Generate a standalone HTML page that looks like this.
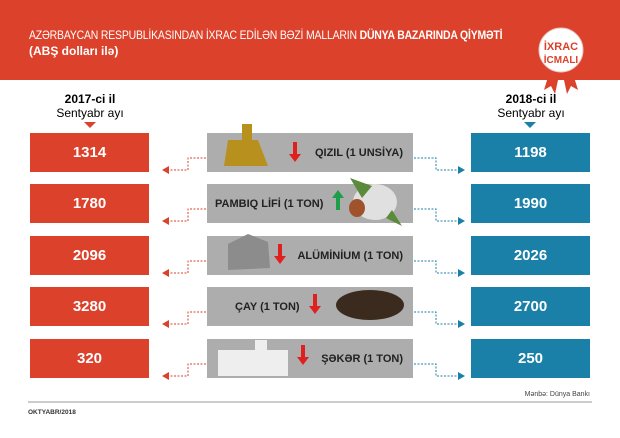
<!DOCTYPE html>
<html><head><meta charset="utf-8"><style>
*{margin:0;padding:0;box-sizing:border-box}
body{width:620px;height:438px;background:#fff;position:relative;overflow:hidden;font-family:"Liberation Sans",sans-serif}
.hdr{position:absolute;left:0;top:0;width:620px;height:80px;background:#db412b}
.t1{position:absolute;left:29px;top:28px;color:#fff;font-size:12px;letter-spacing:-0.2px;white-space:nowrap;transform:scaleX(0.87);transform-origin:left}
.t2{position:absolute;left:29px;top:44px;color:#fff;font-size:12px;font-weight:bold}
.box{position:absolute;height:39px;color:#fff;font-weight:bold;font-size:15px;display:flex;align-items:center;justify-content:center}
.r{left:30px;width:119px;background:#db412b}
.b{left:471px;width:119px;background:#1a80a8}
.g{position:absolute;left:207px;width:206px;height:39px;background:#adadad;font-size:11px;font-weight:bold;color:#222;display:flex;align-items:center;justify-content:flex-end;padding-right:10px;white-space:nowrap}
.lbl{position:absolute;text-align:center;width:100px;font-size:12px}
.lbl b{font-size:12px;display:block}
.arrow{position:absolute;width:0;height:0}
svg{position:absolute;left:0;top:0}
</style></head><body>
<div class="hdr"></div>
<div class="t1">AZƏRBAYCAN RESPUBLİKASINDAN İXRAC EDİLƏN BƏZİ MALLARIN <b>DÜNYA BAZARINDA QİYMƏTİ</b></div>
<div class="t2">(ABŞ dolları ilə)</div>
<div class="lbl" style="left:40px;top:92px"><b>2017-ci il</b>Sentyabr ayı</div>
<div class="lbl" style="left:481px;top:92px"><b>2018-ci il</b>Sentyabr ayı</div>
<div class="arrow" style="left:84px;top:122px;border-left:6px solid transparent;border-right:6px solid transparent;border-top:6px solid #db412b"></div>
<div class="arrow" style="left:524px;top:122px;border-left:6px solid transparent;border-right:6px solid transparent;border-top:6px solid #1a80a8"></div>

<div class="box r" style="top:133px">1314</div>
<div class="box r" style="top:184px">1780</div>
<div class="box r" style="top:236px">2096</div>
<div class="box r" style="top:287px">3280</div>
<div class="box r" style="top:339px">320</div>
<div class="box b" style="top:133px">1198</div>
<div class="box b" style="top:184px">1990</div>
<div class="box b" style="top:236px">2026</div>
<div class="box b" style="top:287px">2700</div>
<div class="box b" style="top:339px">250</div>

<div class="g" style="top:133px">QIZIL (1 UNSİYA)</div>
<div class="g" style="top:184px;justify-content:flex-start;padding-left:8px">PAMBIQ LİFİ (1 TON)</div>
<div class="g" style="top:236px">ALÜMİNİUM (1 TON)</div>
<div class="g" style="top:287px;justify-content:flex-start;padding-left:28px">ÇAY (1 TON)</div>
<div class="g" style="top:339px">ŞƏKƏR (1 TON)</div>

<svg width="620" height="438">
<g fill="#b8901e"><path d="M228 140h30l10 26h-44z"/><rect x="242" y="124" width="10" height="20"/></g>
<g fill="#e0e0e0"><ellipse cx="375" cy="202" rx="22" ry="18"/></g>
<path d="M350 178l22 8-10 12z M392 210l10 16-16-8z" fill="#5a8a3a"/>
<ellipse cx="357" cy="208" rx="8" ry="9" fill="#a0522d"/>
<path d="M228 244l20-10 20 8 2 26-42 2z" fill="#8c8c8c"/>
<ellipse cx="370" cy="305" rx="34" ry="15" fill="#3b2a1e"/>
<g fill="#eeeeee"><rect x="218" y="350" width="70" height="26"/><rect x="255" y="340" width="12" height="12"/></g>
<g fill="#e0201f">
<path d="M293 142h4v12h4l-6 8-6-8h4z"/>
<path d="M278 244h4v12h4l-6 8-6-8h4z"/>
<path d="M313 294h4v12h4l-6 8-6-8h4z"/>
<path d="M301 345h4v12h4l-6 8-6-8h4z"/>
</g>
<path d="M336 210h4v-12h4l-6-8-6 8h4z" fill="#1e9e48"/>
<g fill="none" stroke-dasharray="2,1.5" stroke-width="1">
<g stroke="#db412b">
<path d="M206 158h-18v12h-20"/><path d="M206 209h-18v12h-20"/><path d="M206 261h-18v12h-20"/><path d="M206 312h-18v12h-20"/><path d="M206 364h-18v12h-20"/>
</g>
<g stroke="#1a80a8">
<path d="M414 158h22v12h22"/><path d="M414 209h22v12h22"/><path d="M414 261h22v12h22"/><path d="M414 312h22v12h22"/><path d="M414 364h22v12h22"/>
</g>
</g>
<g fill="#db412b"><path d="M162 170l7-4v8z"/><path d="M162 221l7-4v8z"/><path d="M162 273l7-4v8z"/><path d="M162 324l7-4v8z"/><path d="M162 376l7-4v8z"/></g>
<g fill="#1a80a8"><path d="M465 170l-7-4v8z"/><path d="M465 221l-7-4v8z"/><path d="M465 273l-7-4v8z"/><path d="M465 324l-7-4v8z"/><path d="M465 376l-7-4v8z"/></g>
<path d="M552 64l-8 26 7-4 4 8 6-28z M570 64l8 26-7-4-4 8-6-28z" fill="#db412b"/>
<circle cx="561" cy="50" r="22" fill="#fff" stroke="#e8c8c0"/>
<text x="561" y="50" text-anchor="middle" font-size="11" font-weight="bold" fill="#db412b" font-family="Liberation Sans">İXRAC</text>
<text x="561" y="63" text-anchor="middle" font-size="10" font-weight="bold" fill="#db412b" font-family="Liberation Sans">İCMALI</text>
<line x1="28" y1="402" x2="592" y2="402" stroke="#999" stroke-width="1"/>
<text x="590" y="396" text-anchor="end" font-size="7" fill="#444" font-family="Liberation Sans">Mənbə: Dünya Bankı</text>
<text x="28" y="414" font-size="6.5" font-weight="bold" fill="#333" font-family="Liberation Sans">OKTYABR/2018</text>
</svg>
</body></html>
